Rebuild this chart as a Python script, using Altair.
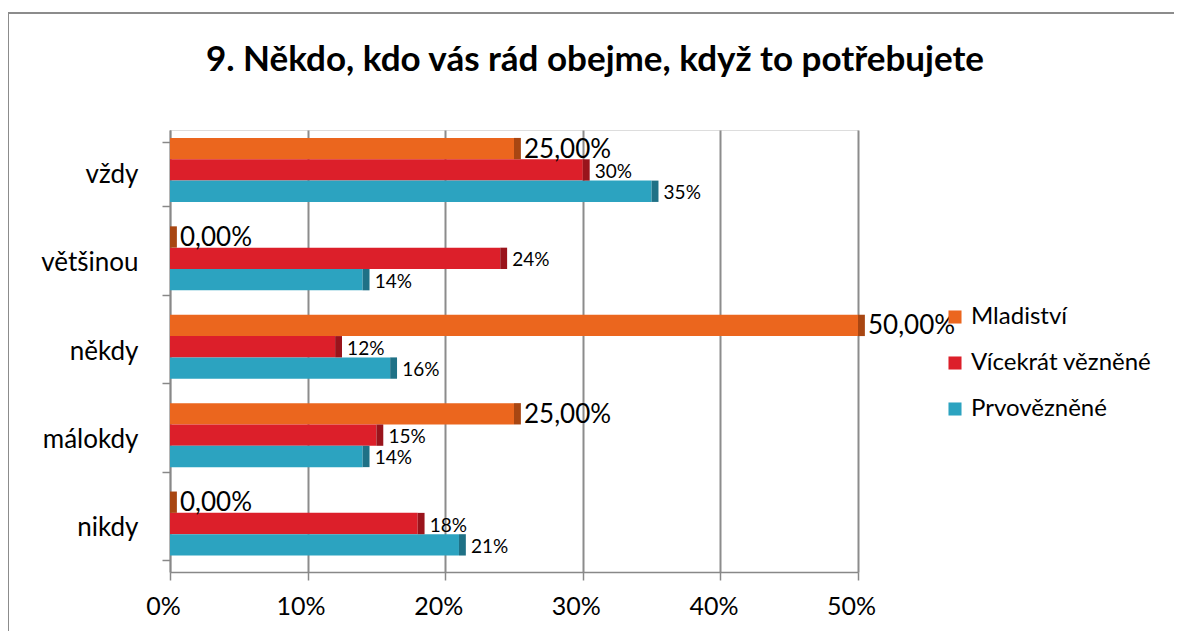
import altair as alt
import pandas as pd

categories = ["vždy", "většinou", "někdy", "málokdy", "nikdy"]
series = ["Mladiství", "Vícekrát vězněné", "Prvovězněné"]
mladistvi = [25, 0, 50, 25, 0]
vicekrat = [30, 24, 12, 15, 18]
prvovezene = [35, 14, 16, 14, 21]
colors = ["#EB661E", "#DC1F2A", "#2CA3C0"]
side_colors = ["#A84612", "#9A141C", "#1F7186"]
x_ticks = [0, 10, 20, 30, 40, 50]
title_text = "9. Někdo, kdo vás rád obejme, když to potřebujete"

rows = []
for s, vals, sc in zip(series, [mladistvi, vicekrat, prvovezene], side_colors):
    for c, v in zip(categories, vals):
        if s == "Mladiství":
            lab = f"{v:.2f}".replace(".", ",") + "%"
        else:
            lab = f"{v}%"
        rows.append(dict(cat=c, series=s, value=v, label=lab,
                         big=(s == "Mladiství"), side=sc))
df = pd.DataFrame(rows)

FONT = "Lato"

y_enc = alt.Y(
    "cat:N", sort=categories,
    scale=alt.Scale(paddingInner=0.27, paddingOuter=0.135),
    axis=alt.Axis(title=None, labelFontSize=26, labelFont=FONT, labelColor="black",
                  tickBand="extent", tickColor="#888888", domainColor="#888888",
                  tickSize=8, labelPadding=24, grid=False, domainWidth=1.5, tickWidth=1.5),
)
yoff = alt.YOffset("series:N", sort=series, scale=alt.Scale(paddingInner=0, range=[-4, 60]))
x_enc = alt.X(
    "value:Q", scale=alt.Scale(domain=[0, 50], nice=False),
    axis=alt.Axis(title=None, values=x_ticks, labelExpr="datum.value + '%'",
                  labelFontSize=25, labelFont=FONT, labelColor="black", labelFlush=False,
                  labelOffset=-7,
                  grid=True, gridColor="#8C8C8C", gridWidth=2,
                  domainColor="#888888", domainWidth=1.5, tickColor="#888888",
                  tickSize=8, tickWidth=1.5, labelPadding=14),
)

base = alt.Chart(df)

bars = base.mark_bar().encode(
    x=x_enc, y=y_enc, yOffset=yoff,
    color=alt.Color("series:N", sort=series,
                    scale=alt.Scale(domain=series, range=colors),
                    legend=alt.Legend(title=None, orient="none", legendX=773, legendY=175,
                                      symbolType="square", symbolSize=170,
                                      symbolStrokeWidth=0, labelFontSize=24, labelFont=FONT,
                                      labelColor="black", rowPadding=22, labelOffset=4,
                                      labelLimit=400)),
)

sides = base.transform_calculate(end="datum.value + 0.5").mark_bar().encode(
    x="value:Q", x2="end:Q", y=alt.Y("cat:N", sort=categories), yOffset=yoff,
    color=alt.Color("side:N", scale=None),
)

big_labels = base.transform_filter("datum.big").mark_text(
    align="left", baseline="middle", dx=10, dy=1, fontSize=26, font=FONT, color="black"
).encode(x="value:Q", y=alt.Y("cat:N", sort=categories), yOffset=yoff, text="label:N")

small_labels = base.transform_filter("!datum.big").mark_text(
    align="left", baseline="middle", dx=12, dy=2, fontSize=19, font=FONT, color="black"
).encode(x="value:Q", y=alt.Y("cat:N", sort=categories), yOffset=yoff, text="label:N")

border = alt.Chart(pd.DataFrame({"a": [0]})).mark_rect(
    fill=None, stroke="#8C8C8C", strokeWidth=2
).encode(x=alt.value(-162), x2=alt.value(1040), y=alt.value(-117), y2=alt.value(540))

title = alt.Chart(pd.DataFrame({"t": [title_text]})).mark_text(
    fontSize=35, font=FONT, fontWeight="bold", color="black",
    align="center", baseline="middle"
).encode(x=alt.value(425), y=alt.value(-70), text="t:N")

chart = alt.layer(border, title, bars, sides, big_labels, small_labels).properties(
    width=688, height=442,
    autosize=alt.AutoSizeParams(type="none"),
    padding={"left": 162, "top": 122, "right": 316, "bottom": 59},
).configure_view(stroke=None).configure(background="white")

chart.save("out.html", embed_options={"renderer": "svg", "actions": False})
